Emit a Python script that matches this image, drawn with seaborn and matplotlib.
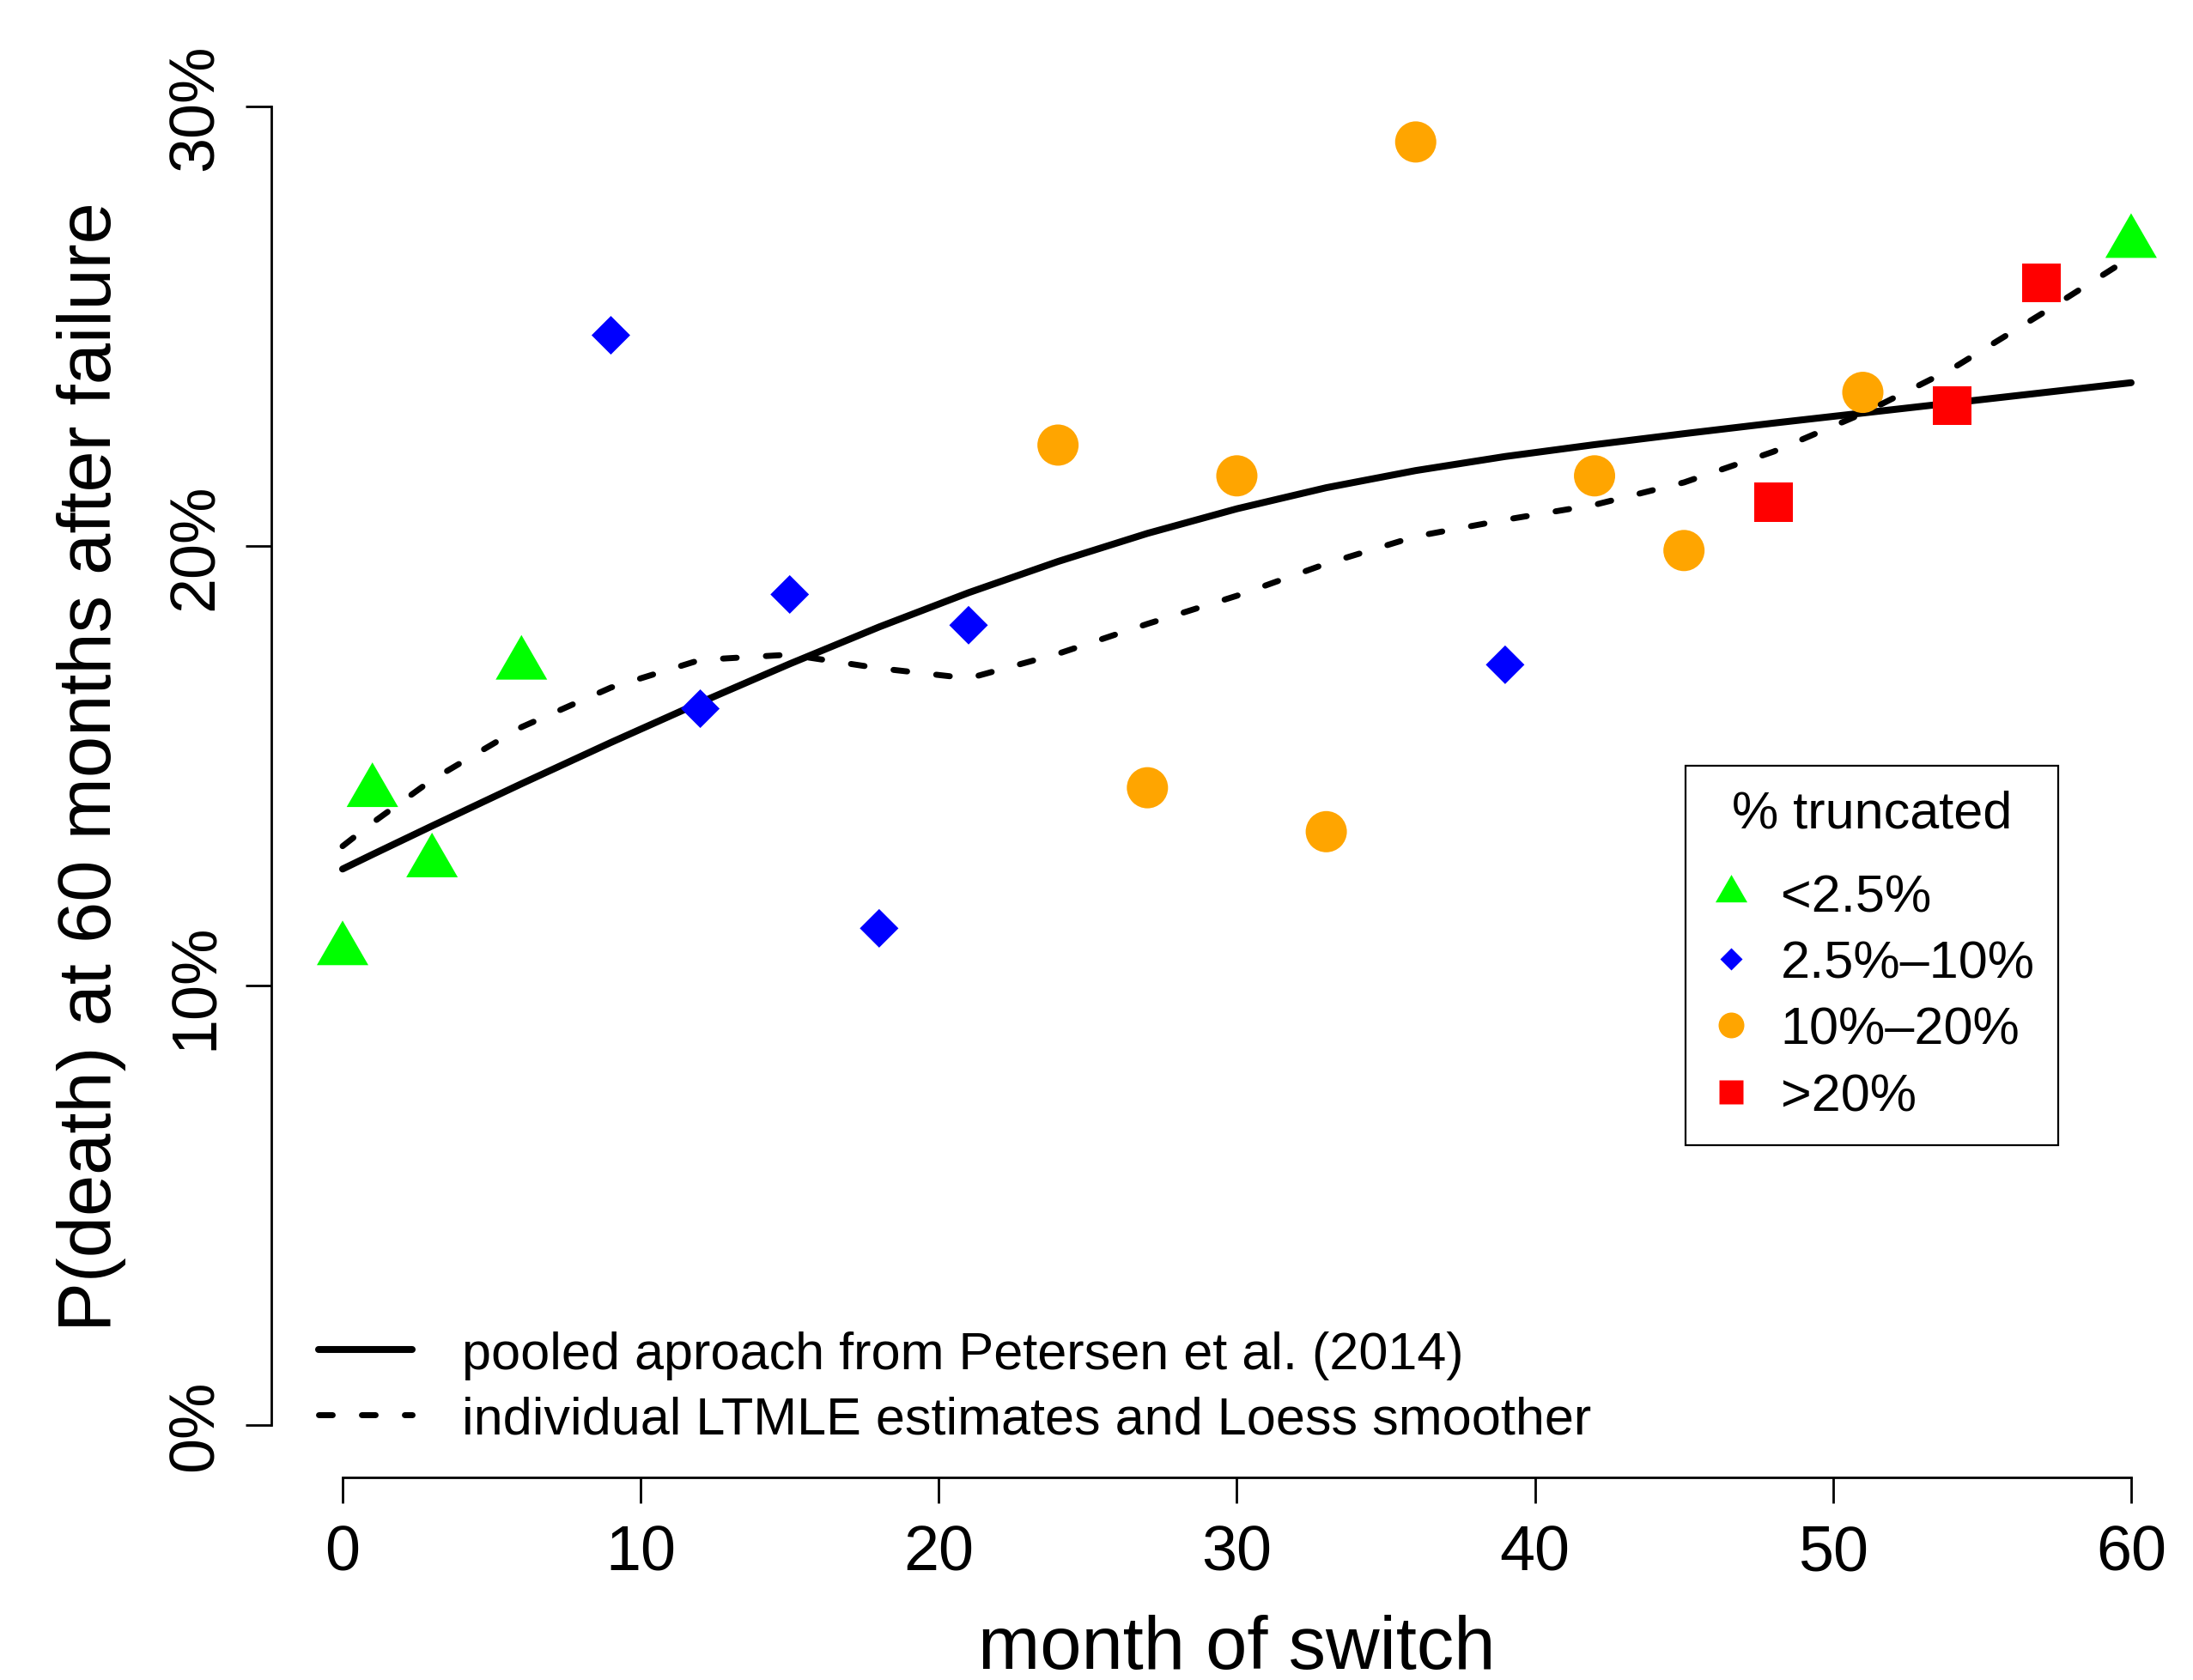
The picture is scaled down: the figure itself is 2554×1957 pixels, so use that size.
import matplotlib
matplotlib.use("Agg")
import matplotlib.pyplot as plt
from matplotlib.lines import Line2D
import pandas as pd
import seaborn as sns

# LTMLE estimates, grouped by the share of truncated weights
group_labels = ["<2.5%", "2.5%\u201310%", "10%\u201320%", ">20%"]
months_lt25 = [0, 1, 3, 6, 60]
pdeath_lt25 = [0.108, 0.144, 0.128, 0.173, 0.269]
months_25_10 = [9, 12, 15, 18, 21, 39]
pdeath_25_10 = [0.248, 0.163, 0.189, 0.113, 0.182, 0.173]
months_10_20 = [24, 27, 30, 33, 36, 42, 45, 51]
pdeath_10_20 = [0.223, 0.145, 0.216, 0.135, 0.292, 0.216, 0.199, 0.235]
months_gt20 = [48, 54, 57]
pdeath_gt20 = [0.210, 0.232, 0.260]

# curves
curve_months = [0, 1, 3, 6, 9, 12, 15, 18, 21, 24, 27, 30, 33, 36, 39, 42, 45, 48, 51, 54, 57, 60]
pooled = [0.1265, 0.1298, 0.1363, 0.1459, 0.1553, 0.1644, 0.1732, 0.1816, 0.1894, 0.1965, 0.2029,
          0.2085, 0.2133, 0.2172, 0.2204, 0.2231, 0.2256, 0.2280, 0.2303, 0.2326, 0.2349, 0.2372]
loess = [0.1317, 0.1370, 0.1468, 0.1588, 0.1678, 0.1741, 0.1753, 0.1722, 0.1699, 0.1755, 0.1823,
         0.1887, 0.1960, 0.2022, 0.2060, 0.2094, 0.2145, 0.2215, 0.2302, 0.2404, 0.2529, 0.2658]

line_labels = ["pooled aproach from Petersen et al. (2014)",
               "individual LTMLE estimates and Loess smoother"]

colors = ["#00FF00", "#0000FF", "#FFA500", "#FF0000"]
tri = [(0, 1), (-0.866, -0.5), (0.866, -0.5)]   # equilateral, centred on centroid
markers = [tri, "D", "o", "s"]
sizes = [2490, 525, 1194, 1050]
legend_ms = [30.8, 13.7, 21.6, 20.2]

points = pd.concat([
    pd.DataFrame({"month": months_lt25, "pdeath": pdeath_lt25, "group": group_labels[0]}),
    pd.DataFrame({"month": months_25_10, "pdeath": pdeath_25_10, "group": group_labels[1]}),
    pd.DataFrame({"month": months_10_20, "pdeath": pdeath_10_20, "group": group_labels[2]}),
    pd.DataFrame({"month": months_gt20, "pdeath": pdeath_gt20, "group": group_labels[3]}),
], ignore_index=True)

sns.set_theme(style="white")
plt.rcParams["font.family"] = ["Liberation Sans", "DejaVu Sans"]
plt.rcParams["lines.scale_dashes"] = False
plt.rcParams["text.color"] = "black"
plt.rcParams["axes.labelcolor"] = "black"
plt.rcParams["xtick.color"] = "black"
plt.rcParams["ytick.color"] = "black"

fig = plt.figure(figsize=(25.54, 19.58), dpi=100)
ax = fig.add_axes([0.1236, 0.1205, 0.8808, 0.8468])

sns.lineplot(x=curve_months, y=pooled, color="black", lw=5.8, solid_capstyle="round",
             solid_joinstyle="round", ax=ax, zorder=2)

for lab, c, m, s in zip(group_labels, colors, markers, sizes):
    sub = points[points["group"] == lab]
    sns.scatterplot(data=sub, x="month", y="pdeath", marker=m, s=s, color=c,
                    edgecolor="none", linewidth=0, ax=ax, zorder=3, legend=False)

sns.lineplot(x=curve_months, y=loess, color="black", lw=5.0, linestyle=(0, (11.5, 24.5)),
             dash_capstyle="round", dash_joinstyle="round", ax=ax, zorder=4)

ax.set_xlim(-2.4, 62.4)
ax.set_ylim(-0.012, 0.312)
ax.set_xticks([0, 10, 20, 30, 40, 50, 60])
ax.set_yticks([0, 0.1, 0.2, 0.3], ["0%", "10%", "20%", "30%"], rotation=90, va="center")
ax.tick_params(axis="both", direction="out", length=21.6, width=2.0, pad=17, labelsize=53,
               bottom=True, left=True)

for side in ["top", "right"]:
    ax.spines[side].set_visible(False)
ax.spines["left"].set_bounds(0, 0.3)
ax.spines["bottom"].set_bounds(0, 60)
for side in ["left", "bottom"]:
    ax.spines[side].set_linewidth(2.0)
    ax.spines[side].set_color("black")

ax.set_xlabel("month of switch", fontsize=62.5)
ax.set_ylabel("P(death) at 60 months after failure", fontsize=62.5)
ax.xaxis.set_label_coords(0.5, -0.096)
ax.yaxis.set_label_coords(-0.0752, 0.5)

line_handles = [
    Line2D([], [], color="black", lw=5.8, solid_capstyle="round"),
    Line2D([], [], color="black", lw=5.0, linestyle=(0, (11.5, 24.5)), dash_capstyle="round"),
]
leg1 = ax.legend(line_handles, line_labels, loc="lower left", bbox_to_anchor=(0.0246, 0.0235),
                 frameon=False, fontsize=44, handlelength=1.78, handletextpad=0.95,
                 labelspacing=0.3, borderpad=0, borderaxespad=0)
ax.add_artist(leg1)

marker_handles = [
    Line2D([], [], linestyle="none", marker=m, markersize=ms, markerfacecolor=c,
           markeredgecolor="none")
    for m, ms, c in zip(markers, legend_ms, colors)
]
leg2 = ax.legend(marker_handles, group_labels, title="% truncated", loc="upper left",
                 bbox_to_anchor=(0.7323, 0.5), borderaxespad=0, fontsize=44, title_fontsize=44,
                 frameon=True, fancybox=False, edgecolor="black", framealpha=1,
                 borderpad=0.45, handlelength=0.82, handletextpad=0.54, labelspacing=0.33)
leg2.get_frame().set_linewidth(1.6)
# a bit more room between the legend title and its entries, as in the original
leg2._legend_box.sep = 0.33 * 44 + 15

fig.savefig("out.png", dpi=100)
